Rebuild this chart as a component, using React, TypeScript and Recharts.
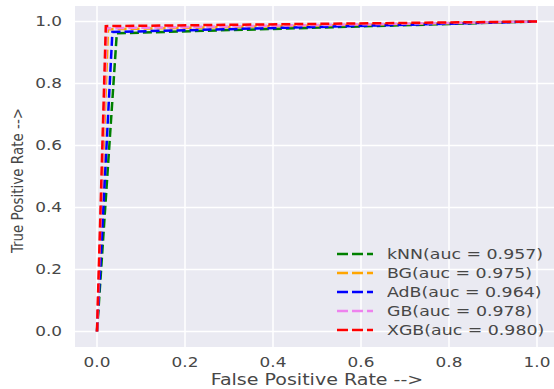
import React from 'react';
import { LineChart, Line, XAxis, YAxis, CartesianGrid, Label } from 'recharts';

const seriesNames = ['kNN(auc = 0.957)', 'BG(auc = 0.975)', 'AdB(auc = 0.964)', 'GB(auc = 0.978)', 'XGB(auc = 0.980)'];
const seriesColors = ['#008000', '#FFA500', '#0000FF', '#EE82EE', '#FF0000'];
const fprKNN = [0, 0.045, 1];
const tprKNN = [0, 0.962, 1];
const fprBG = [0, 0.025, 1];
const tprBG = [0, 0.975, 1];
const fprAdB = [0, 0.035, 1];
const tprAdB = [0, 0.966, 1];
const fprGB = [0, 0.022, 1];
const tprGB = [0, 0.978, 1];
const fprXGB = [0, 0.02, 1];
const tprXGB = [0, 0.985, 1];
const tickValues = [0, 0.2, 0.4, 0.6, 0.8, 1.0];

const fprs = [fprKNN, fprBG, fprAdB, fprGB, fprXGB];
const tprs = [tprKNN, tprBG, tprAdB, tprGB, tprXGB];
const seriesData = fprs.map((f, i) => f.map((x, j) => ({ x, y: tprs[i][j] })));

const FONT = '"DejaVu Sans", sans-serif';
const TXT = '#474747';
const SX = 1.25;

const stretch = (x: number, y: number, s: number) => `translate(${x} ${y}) scale(${s} 1) translate(${-x} ${-y})`;

const XTick = (props: any) => {
  const { x, y, payload } = props;
  return (
    <text x={x} y={y} dy="0.71em" textAnchor="middle" transform={stretch(x, y, SX)}
      style={{ fill: TXT, fontSize: 13.5, fontFamily: FONT }}>
      {Number(payload.value).toFixed(1)}
    </text>
  );
};

const YTick = (props: any) => {
  const { x, y, payload } = props;
  return (
    <text x={x} y={y} dy="0.355em" textAnchor="end" transform={stretch(x, y, SX)}
      style={{ fill: TXT, fontSize: 13.5, fontFamily: FONT }}>
      {Number(payload.value).toFixed(1)}
    </text>
  );
};

const LegendBox = () => (
  <div style={{ position: 'absolute', left: 337, top: 245, fontFamily: FONT, fontSize: 14, color: TXT }}>
    {seriesNames.map((n, i) => (
      <div key={n} style={{ display: 'flex', alignItems: 'center', height: 18.8 }}>
        <svg width={36} height={10} style={{ marginRight: 14 }}>
          <line x1={0} y1={5} x2={36} y2={5} stroke={seriesColors[i]} strokeWidth={2.5} strokeDasharray="11 4" />
        </svg>
        <span style={{ whiteSpace: 'nowrap', display: 'inline-block', transform: 'scaleX(1.24)', transformOrigin: 'left center' }}>{n}</span>
      </div>
    ))}
  </div>
);

export default function App() {
  return (
    <div style={{ position: 'absolute', left: 0, top: 0, width: 554, height: 389, overflow: 'hidden', background: '#fff' }}>
      <LineChart width={559} height={389} margin={{ top: 6, right: 0, bottom: 0, left: 0 }}>
        <CartesianGrid fill="#EAEAF2" stroke="#FFFFFF" strokeWidth={1.5} horizontalValues={tickValues} verticalValues={tickValues} />
        <XAxis
          type="number"
          dataKey="x"
          domain={[-0.05, 1.05]}
          ticks={tickValues}
          allowDataOverflow
          axisLine={false}
          tickLine={false}
          tickSize={0}
          tickMargin={10}
          height={42}
          tick={<XTick />}
        >
          <Label
            content={(props: any) => {
              const vb = props.viewBox || { x: 75, y: 347, width: 484, height: 42 };
              const cx = vb.x + vb.width / 2;
              const cy = vb.y + vb.height - 4;
              return (
                <text x={cx} y={cy} textAnchor="middle" transform={stretch(cx, cy, 1.27)}
                  style={{ fill: TXT, fontSize: 15, fontFamily: FONT }}>
                  False Positive Rate --&gt;
                </text>
              );
            }}
          />
        </XAxis>
        <YAxis
          type="number"
          domain={[-0.05, 1.05]}
          ticks={tickValues}
          allowDataOverflow
          axisLine={false}
          tickLine={false}
          tickSize={0}
          tickMargin={13}
          width={75}
          tick={<YTick />}
        >
          <Label
            content={(props: any) => {
              const vb = props.viewBox || { x: 0, y: 6, width: 75, height: 341 };
              const cx = vb.x + 18;
              const cy = vb.y + vb.height / 2 + 4;
              return (
                <text x={cx} y={cy} transform={`rotate(-90 ${cx} ${cy})`} textAnchor="middle" dominantBaseline="central"
                  style={{ fill: TXT, fontSize: 15, fontFamily: '"DejaVu Sans Condensed", "Liberation Sans Narrow", sans-serif' }}>
                  True Positive Rate --&gt;
                </text>
              );
            }}
          />
        </YAxis>
        {seriesData.map((d, i) => (
          <Line
            key={seriesNames[i]}
            data={d}
            dataKey="y"
            name={seriesNames[i]}
            type="linear"
            stroke={seriesColors[i]}
            strokeWidth={2.5}
            strokeDasharray="9 4"
            dot={false}
            activeDot={false}
            isAnimationActive={false}
          />
        ))}
      </LineChart>
      <LegendBox />
    </div>
  );
}
